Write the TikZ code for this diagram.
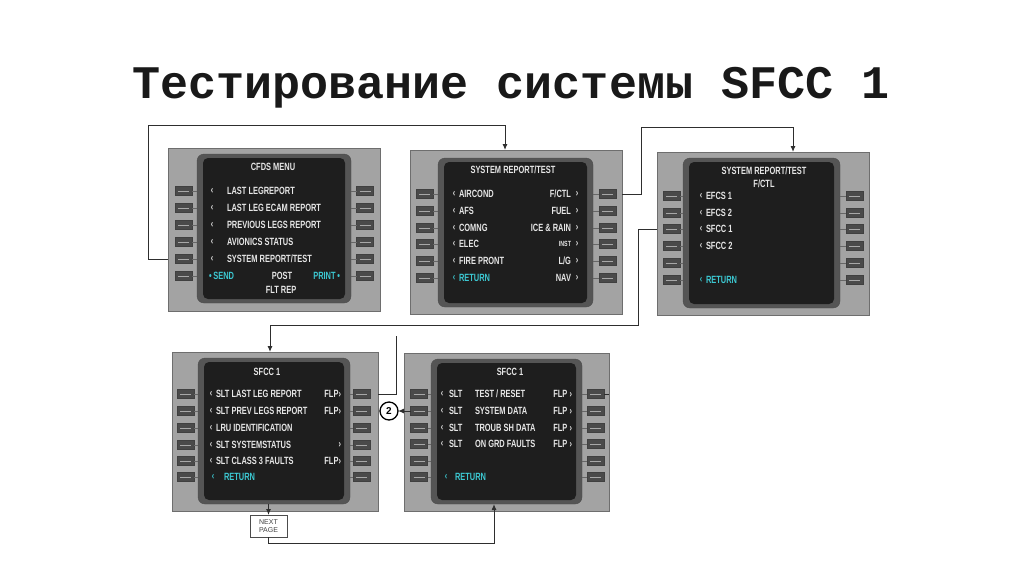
\documentclass[tikz,border=0pt]{standalone}
\usepackage{fontspec}
\newfontfamily\headfont{Liberation Mono}
\newfontfamily\fmsfont{Liberation Sans}[FakeStretch=0.71]
\newfontfamily\tagfont{Liberation Sans}
\usepackage{tikz}
\usetikzlibrary{arrows.meta, calc}
\definecolor{panelgray}{HTML}{A3A3A3}
\definecolor{paneledge}{HTML}{6E6E6E}
\definecolor{rimgray}{HTML}{555555}
\definecolor{lcdblack}{HTML}{1E1E1E}
\definecolor{keyfill}{HTML}{4A4A4A}
\definecolor{keyline}{HTML}{A8A8A8}
\definecolor{scrtext}{HTML}{E6E6E6}
\definecolor{scrcyan}{HTML}{3CC8D2}
\definecolor{wire}{HTML}{2E2E2E}

\begin{document}
\begin{tikzpicture}[
  x=1pt, y=-1pt,
  every node/.style={inner sep=0pt, outer sep=0pt},
  panel/.style={rectangle, fill=panelgray, draw=paneledge, line width=0.8pt},
  rim/.style={rectangle, rounded corners=7pt, fill=rimgray, draw=black!70},
  lcd/.style={rectangle, rounded corners=5pt, fill=lcdblack},
  key/.style={rectangle, minimum width=17pt, minimum height=9pt, fill=keyfill,
              draw=black!75,
              path picture={\draw[keyline, line width=0.9pt]
                ([xshift=3pt]path picture bounding box.west) --
                ([xshift=-3pt]path picture bounding box.east);}},
  tick/.style={draw=black!60, line width=0.6pt},
  fms/.style={text=scrtext, font=\fmsfont\bfseries\fontsize{10.5}{13}\selectfont},
  ret/.style={fms, text=scrcyan},
  plain/.style={draw=wire, line width=1pt},
  link/.style={plain, -{Latex[length=6pt, width=5pt]}}
]
  \useasboundingbox (0,0) rectangle (1024,574);

  \node[font=\headfont\bfseries\fontsize{46.7}{50}\selectfont, text=black!90,
        anchor=base] (title) at (511,98) {Тестирование системы SFCC 1};

  % CFDS menu
  \node[panel, minimum width=212pt, minimum height=163pt] (cfds) at (274,229.5) {};
  \node[rim, minimum width=154pt, minimum height=149pt] (cfdsS) at (274,228.5) {};
  \node[lcd, minimum width=142pt, minimum height=141pt] (cfdsD) at (274,228.5) {};
  \foreach \y [count=\i] in {191,208,225,242,259,276} {
    \node[key] (cfdsL\i) at (183.5,\y) {};
    \node[key] (cfdsR\i) at (365,\y) {};
    \draw[tick] (cfdsL\i.east) -- (cfdsS.west |- cfdsL\i);
    \draw[tick] (cfdsR\i.west) -- (cfdsS.east |- cfdsR\i);
  }
  \node[fms] (cfdsH) at (273,167) {CFDS MENU};
  \foreach \y/\t [count=\i] in {191/LAST LEGREPORT, 208/LAST LEG ECAM REPORT,
      225/PREVIOUS LEGS REPORT, 242/AVIONICS STATUS, 259/{SYSTEM REPORT/TEST}} {
    \node[fms] (cfdsC\i) at (212,\y) {‹};
    \node[fms, anchor=west] (cfdsT\i) at (227,\y) {\t};
  }
  \node[ret, anchor=west] (cfdsSend) at (209,276) {•\,SEND};
  \node[fms] (cfdsPost) at (282,276) {POST};
  \node[fms] (cfdsFlt) at (281,290) {FLT REP};
  \node[ret, anchor=east] (cfdsPrint) at (340,276) {PRINT\,•};

  % SYSTEM REPORT/TEST
  \node[panel, minimum width=212pt, minimum height=164pt] (sysrep) at (516,232) {};
  \node[rim, minimum width=155pt, minimum height=149pt] (sysrepS) at (515.5,232.5) {};
  \node[lcd, minimum width=143pt, minimum height=141pt] (sysrepD) at (515.5,232.5) {};
  \foreach \y [count=\i] in {194,211,228,244,261,278} {
    \node[key] (sysrepL\i) at (424.5,\y) {};
    \node[key] (sysrepR\i) at (607.5,\y) {};
    \draw[tick] (sysrepL\i.east) -- (sysrepS.west |- sysrepL\i);
    \draw[tick] (sysrepR\i.west) -- (sysrepS.east |- sysrepR\i);
  }
  \node[fms] (sysrepH) at (513,170) {SYSTEM REPORT/TEST};
  \foreach \y/\l/\r/\c [count=\i] in {194/AIRCOND/{F/CTL}/scrtext,
      211/AFS/FUEL/scrtext, 228/COMNG/{ICE \& RAIN}/scrtext,
      244/ELEC/{\fontsize{7.5}{8}\selectfont INST}/scrtext,
      261/FIRE PRONT/{L/G}/scrtext, 278/RETURN/NAV/scrcyan} {
    \node[fms, text=\c] (sysrepC\i) at (454,\y) {‹};
    \node[fms, text=\c, anchor=west] (sysrepT\i) at (459,\y) {\l};
    \node[fms, anchor=east] (sysrepU\i) at (571,\y) {\r};
    \node[fms] (sysrepV\i) at (577,\y) {›};
  }

  % SYSTEM REPORT/TEST F/CTL
  \node[panel, minimum width=212pt, minimum height=163pt] (fctl) at (763,233.5) {};
  \node[rim, minimum width=157pt, minimum height=150pt] (fctlS) at (761.5,233) {};
  \node[lcd, minimum width=145pt, minimum height=142pt] (fctlD) at (761.5,233) {};
  \foreach \y [count=\i] in {196,213,229,246,263,280} {
    \node[key] (fctlL\i) at (671.5,\y) {};
    \node[key] (fctlR\i) at (854.5,\y) {};
    \draw[tick] (fctlL\i.east) -- (fctlS.west |- fctlL\i);
    \draw[tick] (fctlR\i.west) -- (fctlS.east |- fctlR\i);
  }
  \node[fms, align=center] (fctlH) at (764,177.5) {SYSTEM REPORT/TEST\\F/CTL};
  \foreach \y/\t [count=\i] in {196/EFCS 1, 213/EFCS 2, 229/SFCC 1, 246/SFCC 2} {
    \node[fms] (fctlC\i) at (701,\y) {‹};
    \node[fms, anchor=west] (fctlT\i) at (706,\y) {\t};
  }
  \node[ret] (fctlC6) at (701,280) {‹};
  \node[ret, anchor=west] (fctlT6) at (706,280) {RETURN};

  % SFCC 1, page 1
  \node[panel, minimum width=206pt, minimum height=159pt] (sfccA) at (275,431.5) {};
  \node[rim, minimum width=152pt, minimum height=146pt] (sfccAS) at (274,431) {};
  \node[lcd, minimum width=140pt, minimum height=138pt] (sfccAD) at (274,431) {};
  \foreach \y [count=\i] in {394,411,428,445,461,477} {
    \node[key] (sfccAL\i) at (185.5,\y) {};
    \node[key] (sfccAR\i) at (361.5,\y) {};
    \draw[tick] (sfccAL\i.east) -- (sfccAS.west |- sfccAL\i);
    \draw[tick] (sfccAR\i.west) -- (sfccAS.east |- sfccAR\i);
  }
  \node[fms] (sfccAH) at (267,372) {SFCC 1};
  \foreach \y/\t [count=\i] in {394/SLT LAST LEG REPORT, 411/SLT PREV LEGS REPORT,
      428/LRU IDENTIFICATION, 445/SLT SYSTEMSTATUS, 461/SLT CLASS 3 FAULTS} {
    \node[fms] (sfccAC\i) at (211,\y) {‹};
    \node[fms, anchor=west] (sfccAT\i) at (216,\y) {\t};
  }
  \foreach \y/\r/\i in {394/FLP›/1, 411/FLP›/2, 445/›/4, 461/FLP›/5}
    \node[fms, anchor=east] (sfccAU\i) at (341,\y) {\r};
  \node[ret] (sfccAC6) at (213,477) {‹};
  \node[ret, anchor=west] (sfccAT6) at (224,477) {RETURN};

  % SFCC 1, page 2
  \node[panel, minimum width=205pt, minimum height=158pt] (sfccB) at (506.5,432) {};
  \node[rim, minimum width=151pt, minimum height=145pt] (sfccBS) at (506.5,431.5) {};
  \node[lcd, minimum width=139pt, minimum height=137pt] (sfccBD) at (506.5,431.5) {};
  \foreach \y [count=\i] in {394,411,428,444,461,477} {
    \node[key] (sfccBL\i) at (419,\y) {};
    \node[key] (sfccBR\i) at (595.5,\y) {};
    \draw[tick] (sfccBL\i.east) -- (sfccBS.west |- sfccBL\i);
    \draw[tick] (sfccBR\i.west) -- (sfccBS.east |- sfccBR\i);
  }
  \node[fms] (sfccBH) at (510,372) {SFCC 1};
  \foreach \y/\t [count=\i] in {394/{TEST / RESET}, 411/SYSTEM DATA,
      428/TROUB SH DATA, 444/ON GRD FAULTS} {
    \node[fms] (sfccBC\i) at (442,\y) {‹};
    \node[fms, anchor=west] (sfccBK\i) at (449,\y) {SLT};
    \node[fms, anchor=west] (sfccBT\i) at (475,\y) {\t};
    \node[fms, anchor=east] (sfccBF\i) at (572,\y) {FLP\ ›};
  }
  \node[ret] (sfccBC6) at (446,477) {‹};
  \node[ret, anchor=west] (sfccBT6) at (455,477) {RETURN};

  \node[circle, draw=black, fill=white, line width=1.3pt, minimum size=18pt,
        font=\tagfont\bfseries\fontsize{10}{10}\selectfont] (two) at (389,411) {2};
  \node[rectangle, draw=black!70, fill=white, minimum width=37pt, minimum height=22pt,
        align=center, text=black!75, font=\tagfont\fontsize{7}{7.5}\selectfont]
    (nextpg) at (268.5,526) {NEXT\\PAGE};

  % connectors
  \draw[link] (cfds.west |- cfdsL5) -- ++(-20,0)
    |- ([xshift=-11pt, yshift=25pt]sysrep.north) -- ([xshift=-11pt]sysrep.north);
  \draw[link] (sysrep.east |- sysrepR1) -- ++(19,0)
    |- ([xshift=30pt, yshift=25pt]fctl.north) -- ([xshift=30pt]fctl.north);
  \draw[link] (fctl.west |- fctlL3) -- ++(-19,0)
    |- ([xshift=-5pt, yshift=27pt]sfccA.north) -- ([xshift=-5pt]sfccA.north);
  \coordinate (loose) at (396,336);
  \draw[plain] (sfccA.east |- sfccAR1) -| (loose);
  \draw[link] (sfccBL2.west) -- (two.east);
  \draw[link] (nextpg.north |- sfccAS.south) -- (nextpg.north);
  \draw[link] (nextpg.south) -- ++(0,6) -| ([xshift=-12.5pt]sfccBS.south);
  \draw[plain] (sfccBR1.east) -- (sfccB.east |- sfccBR1);
\end{tikzpicture}
\end{document}
